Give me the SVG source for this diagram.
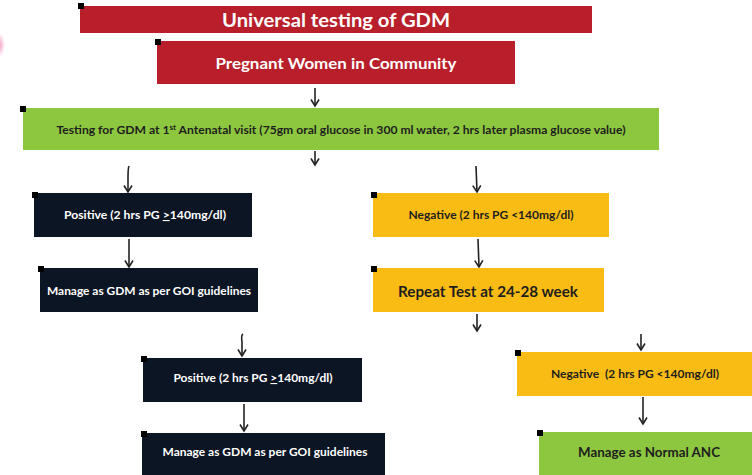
<svg xmlns="http://www.w3.org/2000/svg" width="752" height="475" viewBox="0 0 752 475">
<defs>
<marker id="ah" markerWidth="10" markerHeight="10" refX="8" refY="5" orient="auto" markerUnits="userSpaceOnUse" viewBox="0 0 10 10">
<path d="M1.5,1 L8,5 L1.5,9" fill="none" stroke="#222" stroke-width="1.6"/>
</marker>
<radialGradient id="pink" cx="0.5" cy="0.5" r="0.5">
<stop offset="0" stop-color="#f06aa8" stop-opacity="0.6"/>
<stop offset="1" stop-color="#f06aa8" stop-opacity="0"/>
</radialGradient>
</defs>
<style>
.red{fill:#b81f2a}
.grn{fill:#8dc63f}
.yel{fill:#f9bc15}
.nav{fill:#0c1524}
.mk{fill:#000}
text{font-family:Lato,"Open Sans","Liberation Sans",sans-serif;font-weight:bold;text-anchor:middle}
.w{fill:#fff}
.d{fill:#1e1e1e}
.cn{fill:none;stroke:#222;stroke-width:1.6;marker-end:url(#ah)}
</style>
<rect width="752" height="475" fill="#fff"/>
<ellipse cx="0" cy="45" rx="5" ry="12" fill="url(#pink)"/>
<g id="connectors">
<path class="cn" d="M315,88 L315,106"/>
<path class="cn" d="M315,151 L315,165"/>
<path class="cn" d="M129,166 Q128,168 128,178 L128,192"/>
<path class="cn" d="M129,239 L129,267"/>
<path class="cn" d="M476,166 L477,192"/>
<path class="cn" d="M478,239 L479,267"/>
<path class="cn" d="M477,314 L477,331"/>
<path class="cn" d="M243,334 Q241,335 242,342 L242,356"/>
<path class="cn" d="M244,404 L244,431"/>
<path class="cn" d="M641,334 L641,350"/>
<path class="cn" d="M643,397 L643,424"/>
</g>
<g id="title">
<rect class="red" x="80" y="6" width="512" height="27"/>
<rect class="mk" x="78" y="3" width="6" height="6"/>
<text class="w" x="336" y="27" font-size="19" textLength="228" lengthAdjust="spacingAndGlyphs">Universal testing of GDM</text>
</g>
<g id="pregnant">
<rect class="red" x="157" y="41" width="358" height="43"/>
<rect class="mk" x="155" y="39" width="6" height="6"/>
<text class="w" x="336" y="69" font-size="15" textLength="241" lengthAdjust="spacingAndGlyphs">Pregnant Women in Community</text>
</g>
<g id="testing">
<rect class="grn" x="23" y="108" width="636" height="42"/>
<rect class="mk" x="20" y="106" width="6" height="6"/>
<text class="d" x="341" y="134" font-size="10.5" textLength="569" lengthAdjust="spacingAndGlyphs">Testing for GDM at 1<tspan font-size="7" dy="-4">st</tspan><tspan dy="4"> Antenatal visit (75gm oral glucose in 300 ml water, 2 hrs later plasma glucose value)</tspan></text>
</g>
<g id="positive1">
<rect class="nav" x="34" y="193" width="218" height="44"/>
<rect class="mk" x="32" y="192" width="6" height="6"/>
<text class="w" x="145" y="219" font-size="11" textLength="162" lengthAdjust="spacingAndGlyphs">Positive (2 hrs PG <tspan text-decoration="underline">&gt;</tspan>140mg/dl)</text>
</g>
<g id="manage1">
<rect class="nav" x="40" y="268" width="218" height="44"/>
<rect class="mk" x="38" y="266" width="6" height="6"/>
<text class="w" x="149" y="295" font-size="11" textLength="204" lengthAdjust="spacingAndGlyphs">Manage as GDM as per GOI guidelines</text>
</g>
<g id="negative1">
<rect class="yel" x="373" y="193" width="236" height="44"/>
<rect class="mk" x="371" y="192" width="6" height="6"/>
<text class="d" x="491" y="219" font-size="11" textLength="165" lengthAdjust="spacingAndGlyphs">Negative (2 hrs PG &lt;140mg/dl)</text>
</g>
<g id="repeat">
<rect class="yel" x="373" y="268" width="231" height="44"/>
<rect class="mk" x="371" y="266" width="6" height="6"/>
<text class="d" x="488" y="297" font-size="15" textLength="180" lengthAdjust="spacingAndGlyphs">Repeat Test at 24-28 week</text>
</g>
<g id="positive2">
<rect class="nav" x="143" y="358" width="219" height="44"/>
<rect class="mk" x="141" y="356" width="6" height="6"/>
<text class="w" x="253" y="382" font-size="11" textLength="159" lengthAdjust="spacingAndGlyphs">Positive (2 hrs PG <tspan text-decoration="underline">&gt;</tspan>140mg/dl)</text>
</g>
<g id="manage2">
<rect class="nav" x="142" y="433" width="243" height="42"/>
<rect class="mk" x="141" y="431" width="6" height="6"/>
<text class="w" x="265" y="456" font-size="11" textLength="205" lengthAdjust="spacingAndGlyphs">Manage as GDM as per GOI guidelines</text>
</g>
<g id="negative2">
<rect class="yel" x="517" y="352" width="235" height="44"/>
<rect class="mk" x="515" y="350" width="6" height="6"/>
<text class="d" x="635" y="378" font-size="11" textLength="168" lengthAdjust="spacingAndGlyphs">Negative&#160; (2 hrs PG &lt;140mg/dl)</text>
</g>
<g id="normal">
<rect class="grn" x="539" y="432" width="213" height="43"/>
<rect class="mk" x="537" y="430" width="6" height="6"/>
<text class="d" x="649" y="457" font-size="13" textLength="142" lengthAdjust="spacingAndGlyphs">Manage as Normal ANC</text>
</g>
</svg>
